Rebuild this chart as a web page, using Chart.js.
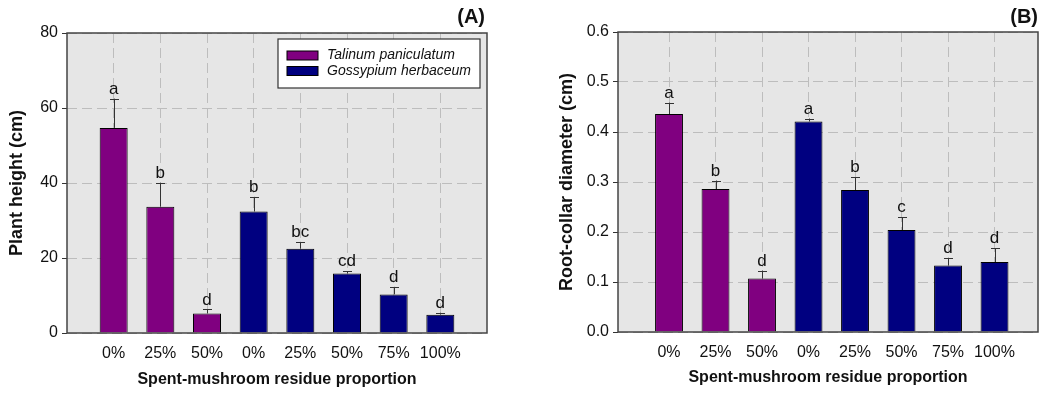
<!DOCTYPE html>
<html>
<head>
<meta charset="utf-8">
<script src="https://cdn.jsdelivr.net/npm/chart.js@4.4.1/dist/chart.umd.min.js"></script>
<style>
  body { margin: 0; background: #fff; }
  #wrap { position: relative; width: 1042px; height: 393px; }
  canvas { position: absolute; top: 0; }
</style>
</head>
<body>
<div id="wrap">
  <canvas id="chartA" width="520" height="393" style="left:0"></canvas>
  <canvas id="chartB" width="522" height="393" style="left:520px"></canvas>
</div>
<script>
// tick labels along the x axis (3 Talinum treatments, then 5 Gossypium treatments)
var xLabels = ["0%", "25%", "50%", "0%", "25%", "50%", "75%", "100%"];
var talPos = [1, 2, 3];
var gosPos = [4, 5, 6, 7, 8];

// (A) plant height, cm
var heightTal = [54.7, 33.7, 5.2];
var heightTalSE = [7.8, 6.4, 1.1];
var heightGos = [32.4, 22.5, 15.9, 10.3, 4.9];
var heightGosSE = [3.9, 1.8, 0.6, 2.0, 0.5];
var heightLetters = ["a", "b", "d", "b", "bc", "cd", "d", "d"];

// (B) root-collar diameter, cm
var diamTal = [0.436, 0.286, 0.107];
var diamTalSE = [0.023, 0.017, 0.016];
var diamGos = [0.421, 0.284, 0.204, 0.133, 0.14];
var diamGosSE = [0.006, 0.026, 0.026, 0.015, 0.028];
var diamLetters = ["a", "b", "d", "a", "b", "c", "d", "d"];

var FONT = "'Liberation Sans', Arial, sans-serif";

function pts(xs, ys) {
  return xs.map(function (x, i) { return { x: x, y: ys[i] }; });
}

var panelPlugin = {
  id: "panel",
  beforeDraw: function (chart) {
    var a = chart.chartArea, c = chart.ctx;
    c.save();
    c.fillStyle = "#e6e6e6";
    c.fillRect(a.left, a.top, a.right - a.left, a.bottom - a.top);
    c.restore();
  },
  afterDatasetsDraw: function (chart) {
    var c = chart.ctx, a = chart.chartArea, ys = chart.scales.y;
    c.save();
    // error bars (upper only) and letters
    chart.data.datasets.forEach(function (ds, di) {
      var meta = chart.getDatasetMeta(di);
      meta.data.forEach(function (bar, i) {
        var v = ds.data[i].y, top = ys.getPixelForValue(v + ds.se[i]);
        var y0 = ys.getPixelForValue(v);
        var bx = Math.round(bar.x);
        c.strokeStyle = "#333";
        c.lineWidth = 1;
        c.beginPath();
        c.moveTo(bx + 0.5, y0);
        c.lineTo(bx + 0.5, top);
        c.moveTo(bx - 4, Math.round(top) + 0.5);
        c.lineTo(bx + 5, Math.round(top) + 0.5);
        c.stroke();
        c.fillStyle = "#111";
        c.font = "17px " + FONT;
        c.textAlign = "center";
        c.textBaseline = "bottom";
        c.fillText(ds.letters[i], bar.x, top - 1);
      });
    });
    // frame round the plot area
    c.strokeStyle = "#444";
    c.lineWidth = 1.5;
    c.strokeRect(a.left, a.top, a.right - a.left, a.bottom - a.top);
    c.restore();
  },
  afterDraw: function (chart) {
    var o = chart.options.plugins.panel;
    var c = chart.ctx, a = chart.chartArea;
    c.save();
    c.fillStyle = "#111";
    c.font = "bold 20px " + FONT;
    c.textAlign = "right";
    c.textBaseline = "middle";
    c.fillText(o.tag, o.tagX, 17);
    if (o.legend) {
      var bx = a.right - 209, by = a.top + 6, bw = 202, bh = 49;
      c.fillStyle = "#fff";
      c.fillRect(bx, by, bw, bh);
      c.strokeStyle = "#333";
      c.lineWidth = 1.2;
      c.strokeRect(bx, by, bw, bh);
      chart.data.datasets.forEach(function (ds, i) {
        var cy = by + 16.5 + i * 15.5;
        c.fillStyle = ds.backgroundColor;
        c.fillRect(bx + 9, cy - 4.5, 31, 9);
        c.strokeStyle = "#000";
        c.lineWidth = 1;
        c.strokeRect(bx + 9, cy - 4.5, 31, 9);
        c.fillStyle = "#111";
        c.font = "italic 14px " + FONT;
        c.textAlign = "left";
        c.textBaseline = "middle";
        c.fillText(ds.label, bx + 49, cy);
      });
    }
    c.restore();
  }
};

function makeChart(id, cfg) {
  var allLetters = cfg.letters;
  return new Chart(document.getElementById(id).getContext("2d"), {
    type: "bar",
    data: {
      datasets: [
        {
          label: "Talinum paniculatum",
          data: pts(talPos, cfg.tal),
          se: cfg.talSE,
          letters: allLetters.slice(0, 3),
          backgroundColor: "#800080",
          borderColor: "#000",
          borderWidth: 1,
          grouped: false,
          barPercentage: 0.6,
          categoryPercentage: 1
        },
        {
          label: "Gossypium herbaceum",
          data: pts(gosPos, cfg.gos),
          se: cfg.gosSE,
          letters: allLetters.slice(3),
          backgroundColor: "#000080",
          borderColor: "#000",
          borderWidth: 1,
          grouped: false,
          barPercentage: 0.6,
          categoryPercentage: 1
        }
      ]
    },
    options: {
      responsive: false,
      animation: false,
      events: [],
      layout: { padding: { top: cfg.top, right: cfg.right, left: 0, bottom: 0 } },
      plugins: {
        legend: { display: false },
        tooltip: { enabled: false },
        panel: { tag: cfg.tag, tagX: cfg.tagX, legend: cfg.legend }
      },
      scales: {
        x: {
          type: "linear",
          offset: false,
          min: cfg.xmin,
          max: cfg.xmax,
          afterBuildTicks: function (s) {
            s.ticks = xLabels.map(function (l, i) { return { value: i + 1 }; });
          },
          afterFit: function (s) { s.height = cfg.bottomH; },
          ticks: {
            padding: 11,
            color: "#111",
            font: { family: FONT, size: 16 },
            callback: function (v) { return xLabels[v - 1]; }
          },
          grid: { color: "#bdbdbd", offset: false, drawTicks: false, lineWidth: 1 },
          border: { display: false, dash: [10, 5] },
          title: {
            display: true,
            text: "Spent-mushroom residue proportion",
            color: "#111",
            font: { family: FONT, size: 16, weight: "bold" },
            padding: { top: 0, bottom: cfg.xTitlePad }
          }
        },
        y: {
          min: 0,
          max: cfg.ymax,
          afterBuildTicks: function (s) {
            var t = [];
            for (var i = 0; i <= cfg.ysteps; i++) t.push({ value: cfg.ymax * i / cfg.ysteps });
            s.ticks = t;
          },
          afterFit: function (s) { s.width = cfg.leftW; },
          ticks: {
            padding: 4,
            color: "#111",
            font: { family: FONT, size: 16 },
            callback: function (v) { return cfg.fmt(v); }
          },
          grid: { color: "#bdbdbd", tickLength: 5, tickColor: "#333", tickBorderDash: [], lineWidth: 1 },
          border: { display: false, dash: [10, 5] },
          title: {
            display: true,
            text: cfg.ytitle,
            color: "#111",
            font: { family: FONT, size: 18, weight: "bold" },
            padding: { top: cfg.yTitlePad, bottom: 0 }
          }
        }
      }
    },
    plugins: [panelPlugin]
  });
}

makeChart("chartA", {
  tal: heightTal, talSE: heightTalSE, gos: heightGos, gosSE: heightGosSE,
  letters: heightLetters, ymax: 80, ysteps: 4,
  fmt: function (v) { return String(Math.round(v)); },
  ytitle: "Plant height (cm)", tag: "(A)", tagX: 485, legend: true,
  top: 33, right: 33, leftW: 67, bottomH: 60, xmin: 0, xmax: 9,
  yTitlePad: 6, xTitlePad: 4
});

makeChart("chartB", {
  tal: diamTal, talSE: diamTalSE, gos: diamGos, gosSE: diamGosSE,
  letters: diamLetters, ymax: 0.6, ysteps: 6,
  fmt: function (v) { return v.toFixed(1); },
  ytitle: "Root-collar diameter (cm)", tag: "(B)", tagX: 1038 - 520, legend: false,
  top: 32, right: 4, leftW: 98, bottomH: 61, xmin: -0.097, xmax: 8.935,
  yTitlePad: 36, xTitlePad: 6
});
</script>
</body>
</html>
